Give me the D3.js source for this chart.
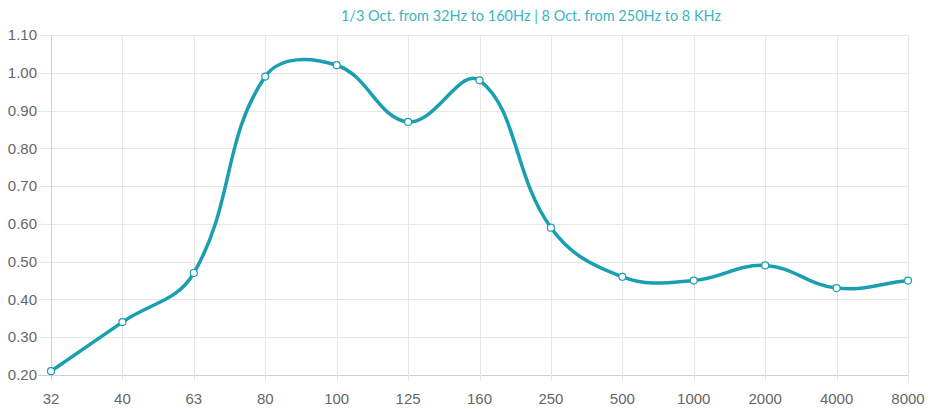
<!DOCTYPE html>
<html lang="en">
<head>
    <meta charset="UTF-8">
    <title>Absorption</title>
    <script src="https://d3js.org/d3.v7.min.js"></script>
</head>
<body>
    <div id="container"></div>
</body>

<style>
body {
    margin: 0;
    background: #fff;
}
svg text {
    user-select: none;
}
</style>

<script>
    // 频率 (x 轴标签)
    const freqs = ['32', '40', '63', '80', '100', '125', '160', '250', '500', '1000', '2000', '4000', '8000']
    // 吸声系数
    const values = [0.21, 0.34, 0.47, 0.99, 1.02, 0.87, 0.98, 0.59, 0.46, 0.45, 0.49, 0.43, 0.45]
    // y 轴刻度
    const yTicks = [0.20, 0.30, 0.40, 0.50, 0.60, 0.70, 0.80, 0.90, 1.00, 1.10]

    const title = '1/3 Oct. from 32Hz to 160Hz | 8 Oct. from 250Hz to 8 KHz'

    const width = 928
    const height = 409
    const margin = {top: 35, right: 20, bottom: 34, left: 51}

    const svg = d3.select('#container')
        .append('svg')
        .attr('width', width)
        .attr('height', height)

    const x = d3.scalePoint()
        .domain(freqs)
        .range([margin.left, width - margin.right])

    const y = d3.scaleLinear()
        .domain([0.2, 1.1])
        .range([height - margin.bottom, margin.top])

    // 标题
    svg.append('text')
        .attr('x', 531)
        .attr('y', 21)
        .attr('text-anchor', 'middle')
        .attr('font-family', 'Lato, "Open Sans", sans-serif')
        .attr('font-size', 14.5)
        .attr('fill', '#3cb4c4')
        .text(title)

    // 网格
    const grid = svg.append('g')
    grid.selectAll('.hgrid')
        .data(yTicks)
        .enter()
        .append('line')
        .attr('x1', margin.left - 13)
        .attr('x2', width - margin.right)
        .attr('y1', d => Math.round(y(d)) + 0.5)
        .attr('y2', d => Math.round(y(d)) + 0.5)
        .attr('stroke', d => d === 0.2 ? '#cfcfcf' : '#e6e6e6')
        .attr('stroke-width', 1)

    grid.selectAll('.vgrid')
        .data(freqs)
        .enter()
        .append('line')
        .attr('x1', d => Math.round(x(d)) + 0.5)
        .attr('x2', d => Math.round(x(d)) + 0.5)
        .attr('y1', margin.top)
        .attr('y2', height - margin.bottom + 6)
        .attr('stroke', (d, i) => i === 0 ? '#cfcfcf' : '#e6e6e6')
        .attr('stroke-width', 1)

    // y 轴文字
    svg.append('g')
        .selectAll('text')
        .data(yTicks)
        .enter()
        .append('text')
        .attr('x', margin.left - 14)
        .attr('y', d => y(d))
        .attr('dy', '0.35em')
        .attr('text-anchor', 'end')
        .attr('font-family', '"Liberation Sans", Arial, sans-serif')
        .attr('font-size', 15)
        .attr('fill', '#666')
        .text(d => d.toFixed(2))

    // x 轴文字
    svg.append('g')
        .selectAll('text')
        .data(freqs)
        .enter()
        .append('text')
        .attr('x', d => x(d))
        .attr('y', height - margin.bottom + 29)
        .attr('text-anchor', 'middle')
        .attr('font-family', '"Liberation Sans", Arial, sans-serif')
        .attr('font-size', 15)
        .attr('fill', '#666')
        .text(d => d)

    // Chart.js v1 风格的样条曲线
    function splineCurve(context) {
        let pts = []
        return {
            lineStart() { pts = [] },
            lineEnd() {
                const t = 0.4
                const n = pts.length
                const ctrl = pts.map((p, i) => {
                    const p0 = i > 0 ? pts[i - 1] : p
                    const p2 = i < n - 1 ? pts[i + 1] : p
                    const d01 = Math.hypot(p[0] - p0[0], p[1] - p0[1])
                    const d12 = Math.hypot(p2[0] - p[0], p2[1] - p[1])
                    const sum = d01 + d12 || 1
                    const fa = t * d01 / sum
                    const fb = t * d12 / sum
                    return {
                        inner: [p[0] - fa * (p2[0] - p0[0]), p[1] - fa * (p2[1] - p0[1])],
                        outer: [p[0] + fb * (p2[0] - p0[0]), p[1] + fb * (p2[1] - p0[1])]
                    }
                })
                context.moveTo(pts[0][0], pts[0][1])
                for (let i = 1; i < n; ++i) {
                    const a = ctrl[i - 1].outer
                    const b = ctrl[i].inner
                    context.bezierCurveTo(a[0], a[1], b[0], b[1], pts[i][0], pts[i][1])
                }
            },
            point(px, py) { pts.push([px, py]) },
            areaStart() {},
            areaEnd() {}
        }
    }

    const line = d3.line()
        .x((d, i) => x(freqs[i]))
        .y(d => y(d))
        .curve(splineCurve)

    svg.append('path')
        .datum(values)
        .attr('d', line)
        .attr('fill', 'none')
        .attr('stroke', '#1a9fb0')
        .attr('stroke-width', 3.5)

    // 数据点
    svg.append('g')
        .selectAll('circle')
        .data(values)
        .enter()
        .append('circle')
        .attr('cx', (d, i) => x(freqs[i]))
        .attr('cy', d => y(d))
        .attr('r', 3.5)
        .attr('fill', '#fff')
        .attr('stroke', '#1a9fb0')
        .attr('stroke-width', 1.2)
</script>
</html>
